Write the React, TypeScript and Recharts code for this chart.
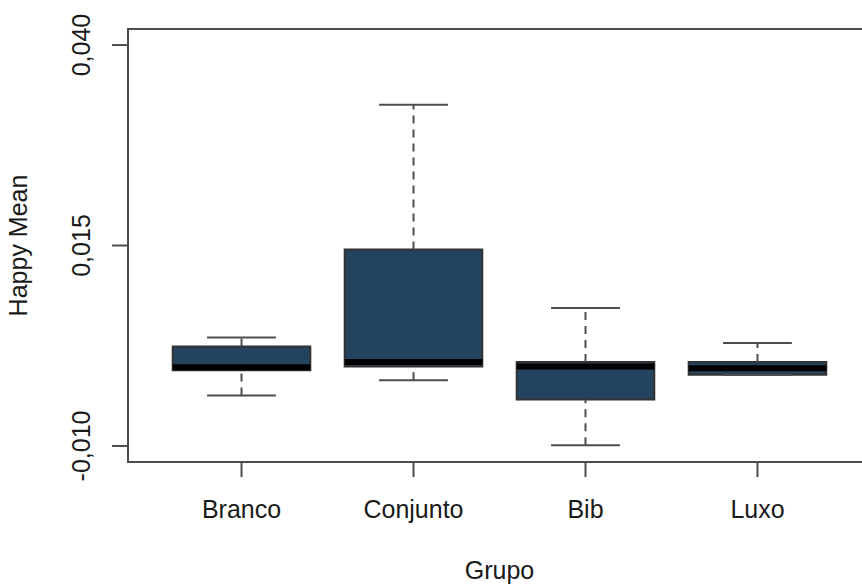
import React from "react";
import {
  ComposedChart,
  Scatter,
  XAxis,
  YAxis,
  ReferenceArea,
  ReferenceLine,
  Label,
} from "recharts";

// box statistics per group
const categories = ["Branco", "Conjunto", "Bib", "Luxo"];
const whiskerLow = [-0.0037, -0.0018, -0.0099, -0.00115];
const quartile1 = [-0.00056, -0.00009, -0.0042, -0.00113];
const medians = [-0.00019, 0.00046, -0.00009, -0.00031];
const quartile3 = [0.0024, 0.0145, 0.00046, 0.00046];
const whiskerHigh = [0.00354, 0.03254, 0.00721, 0.00283];

const yTicks = [-0.01, 0.015, 0.04];
const yTickLabels = ["-0,010", "0,015", "0,040"];

const FONT = '"Liberation Sans", Arial, Helvetica, sans-serif';
const FONT_SIZE = 25;
const LINE = "#4d4d4d";
const FILL = "#24435f";

const positions = categories.map((_, i) => i + 1);
const points = positions.map((x, i) => ({ x, y: medians[i] }));

const XTick = ({ x, y, payload }: any) => (
  <text
    x={x}
    y={y + 39}
    textAnchor="middle"
    fontSize={FONT_SIZE}
    fontFamily={FONT}
    fill="#1a1a1a"
  >
    {categories[payload.value - 1]}
  </text>
);

const YTick = ({ x, y, payload }: any) => {
  const idx = yTicks.indexOf(payload.value);
  const lx = x - 20;
  return (
    <text
      x={lx}
      y={y}
      transform={`rotate(-90, ${lx}, ${y})`}
      textAnchor="middle"
      fontSize={FONT_SIZE}
      fontFamily={FONT}
      fill="#1a1a1a"
    >
      {yTickLabels[idx]}
    </text>
  );
};

export default function App() {
  const half = 0.4;
  const cap = 0.2;
  return (
    <div
      style={{
        position: "absolute",
        left: 0,
        top: 0,
        width: 862,
        height: 585,
        overflow: "hidden",
        background: "#fff",
      }}
    >
      <ComposedChart
        width={880}
        height={585}
        margin={{ top: 29, right: 9, bottom: 0, left: 0 }}
      >
        <XAxis
          type="number"
          dataKey="x"
          domain={[0.34, 4.66]}
          ticks={positions}
          allowDataOverflow
          height={123}
          axisLine={false}
          tickSize={15}
          tickMargin={2}
          tickLine={{ stroke: LINE, strokeWidth: 2 }}
          tick={<XTick />}
        >
          <Label
            content={({ viewBox }: any) => (
              <text
                x={viewBox.x + viewBox.width / 2}
                y={viewBox.y + 117}
                textAnchor="middle"
                fontSize={FONT_SIZE}
                fontFamily={FONT}
                fill="#1a1a1a"
              >
                Grupo
              </text>
            )}
          />
        </XAxis>
        <YAxis
          type="number"
          dataKey="y"
          domain={[-0.012, 0.042]}
          ticks={yTicks}
          allowDataOverflow
          width={128}
          axisLine={false}
          tickSize={16}
          tickMargin={2}
          tickLine={{ stroke: LINE, strokeWidth: 2 }}
          tick={<YTick />}
        >
          <Label
            content={({ viewBox }: any) => {
              const lx = viewBox.x + 27;
              const ly = viewBox.y + viewBox.height / 2;
              return (
                <text
                  x={lx}
                  y={ly}
                  transform={`rotate(-90, ${lx}, ${ly})`}
                  textAnchor="middle"
                  fontSize={FONT_SIZE}
                  fontFamily={FONT}
                  fill="#1a1a1a"
                >
                  Happy Mean
                </text>
              );
            }}
          />
        </YAxis>

        {/* whiskers */}
        {positions.map((x, i) => (
          <ReferenceLine
            key={`wu${i}`}
            segment={[
              { x, y: quartile3[i] },
              { x, y: whiskerHigh[i] },
            ]}
            stroke={LINE}
            strokeWidth={2}
            strokeDasharray="8 6"
          />
        ))}
        {positions.map((x, i) => (
          <ReferenceLine
            key={`wl${i}`}
            segment={[
              { x, y: whiskerLow[i] },
              { x, y: quartile1[i] },
            ]}
            stroke={LINE}
            strokeWidth={2}
            strokeDasharray="8 6"
          />
        ))}
        {positions.map((x, i) => (
          <ReferenceLine
            key={`cu${i}`}
            segment={[
              { x: x - cap, y: whiskerHigh[i] },
              { x: x + cap, y: whiskerHigh[i] },
            ]}
            stroke={LINE}
            strokeWidth={2}
          />
        ))}
        {positions.map((x, i) => (
          <ReferenceLine
            key={`cl${i}`}
            segment={[
              { x: x - cap, y: whiskerLow[i] },
              { x: x + cap, y: whiskerLow[i] },
            ]}
            stroke={LINE}
            strokeWidth={2}
          />
        ))}

        {/* boxes */}
        {positions.map((x, i) => (
          <ReferenceArea
            key={`b${i}`}
            x1={x - half}
            x2={x + half}
            y1={quartile1[i]}
            y2={quartile3[i]}
            fill={FILL}
            fillOpacity={1}
            stroke="#333"
            strokeWidth={2}
          />
        ))}

        {/* medians */}
        {positions.map((x, i) => (
          <ReferenceLine
            key={`m${i}`}
            segment={[
              { x: x - half, y: medians[i] },
              { x: x + half, y: medians[i] },
            ]}
            stroke="#000"
            strokeWidth={6}
          />
        ))}

        {/* plot frame */}
        <ReferenceArea
          x1={0.34}
          x2={4.66}
          y1={-0.012}
          y2={0.042}
          fill="none"
          stroke={LINE}
          strokeWidth={2}
          ifOverflow="visible"
        />

        <Scatter
          data={points}
          isAnimationActive={false}
          shape={() => <g />}
        />
      </ComposedChart>
    </div>
  );
}
